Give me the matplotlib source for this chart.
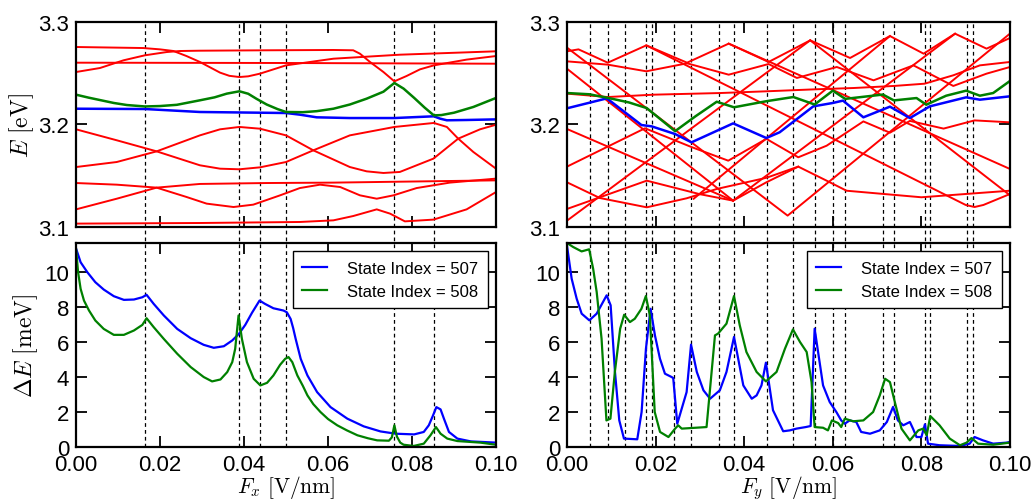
import matplotlib
matplotlib.use("Agg")
import matplotlib.pyplot as plt
from matplotlib.lines import Line2D
from matplotlib.transforms import blended_transform_factory
from matplotlib.ticker import FormatStrFormatter

plt.rcParams['font.family'] = ['Liberation Sans', 'DejaVu Sans']
plt.rcParams['mathtext.fontset'] = 'cm'

# ---------------- data: top-left, E [eV] vs F_x ----------------
tl_red_1 = [(0, 3.2756), (0.0160, 3.2746), (0.0200, 3.2733), (0.0232, 3.2717), (0.0263, 3.2668),
            (0.0295, 3.2610), (0.0343, 3.2506), (0.0365, 3.2475), (0.0389, 3.2463), (0.0410, 3.2470),
            (0.0438, 3.2496), (0.0500, 3.2577), (0.0613, 3.2642), (0.0771, 3.2681), (0.1000, 3.2714)]
tl_red_2 = [(0, 3.2512), (0.0057, 3.2551), (0.0113, 3.2626), (0.0164, 3.2675), (0.0216, 3.2707),
            (0.0248, 3.2717), (0.0295, 3.2720), (0.0454, 3.2724), (0.0613, 3.2727), (0.0660, 3.2724),
            (0.0676, 3.2691), (0.0700, 3.2610), (0.0732, 3.2512), (0.0758, 3.2421), (0.0787, 3.2473),
            (0.0819, 3.2538), (0.0852, 3.2577), (0.0930, 3.2633), (0.1000, 3.2668)]
tl_red_3 = [(0, 3.2603), (0.05, 3.2600), (0.1, 3.2593)]
tl_red_4 = [(0, 3.1953), (0.0097, 3.1846), (0.0192, 3.1738), (0.0295, 3.1602), (0.0343, 3.1569),
            (0.0389, 3.1563), (0.0438, 3.1582), (0.0500, 3.1634), (0.0565, 3.1748), (0.0652, 3.1894),
            (0.0758, 3.1976), (0.0852, 3.2015), (0.0883, 3.1976), (0.0910, 3.1862), (0.0946, 3.1732),
            (0.1000, 3.1569)]
tl_red_5 = [(0, 3.1585), (0.0097, 3.1634), (0.0192, 3.1738), (0.0295, 3.1894), (0.0343, 3.1953),
            (0.0389, 3.1976), (0.0438, 3.1959), (0.0500, 3.1894), (0.0565, 3.1748), (0.0652, 3.1585),
            (0.0692, 3.1543), (0.0732, 3.1527), (0.0771, 3.1537), (0.0851, 3.1667), (0.0910, 3.1862),
            (0.0962, 3.1953), (0.1000, 3.1998)]
tl_red_6 = [(0, 3.1429), (0.0097, 3.1413), (0.0192, 3.1384), (0.0295, 3.1420), (0.0454, 3.1429),
            (0.0613, 3.1433), (0.0771, 3.1442), (0.1000, 3.1455)]
tl_red_7 = [(0, 3.1172), (0.0097, 3.1276), (0.0192, 3.1384), (0.0263, 3.1293), (0.0311, 3.1228),
            (0.0375, 3.1195), (0.0422, 3.1218), (0.0486, 3.1309), (0.0533, 3.1380), (0.0581, 3.1413),
            (0.0629, 3.1390), (0.0676, 3.1309), (0.0716, 3.1276), (0.0756, 3.1309), (0.0811, 3.1380),
            (0.0890, 3.1433), (0.1000, 3.1472)]
tl_red_8 = [(0, 3.1033), (0.0295, 3.1039), (0.0533, 3.1049), (0.0613, 3.1065), (0.0660, 3.1107),
            (0.0716, 3.1172), (0.0748, 3.1130), (0.0783, 3.1055), (0.0851, 3.1072), (0.0930, 3.1172),
            (0.1000, 3.1341)]
tl_green = [(0, 3.2291), (0.0030, 3.2262), (0.0060, 3.2236), (0.0090, 3.2210), (0.0121, 3.2190),
            (0.0164, 3.2176), (0.0200, 3.2180), (0.0240, 3.2192), (0.0295, 3.2236), (0.0330, 3.2265),
            (0.0359, 3.2301), (0.0389, 3.2324), (0.0410, 3.2300), (0.0430, 3.2250), (0.0454, 3.2195),
            (0.0480, 3.2150), (0.0500, 3.2122), (0.0540, 3.2120), (0.0573, 3.2130), (0.0613, 3.2154),
            (0.0652, 3.2195), (0.0692, 3.2252), (0.0732, 3.2320), (0.0758, 3.2405), (0.0780, 3.2350),
            (0.0805, 3.2260), (0.0830, 3.2165), (0.0852, 3.2089), (0.0870, 3.2092), (0.0900, 3.2115),
            (0.0946, 3.2171), (0.1000, 3.2259)]
tl_blue = [(0, 3.2154), (0.0164, 3.2151), (0.0295, 3.2122), (0.0500, 3.2112), (0.0533, 3.2096),
           (0.0573, 3.2070), (0.0652, 3.2063), (0.0758, 3.2063), (0.0852, 3.2080), (0.0867, 3.2057),
           (0.0883, 3.2041), (0.0930, 3.2044), (0.1000, 3.2050)]

# ---------------- data: top-right, E [eV] vs F_y ----------------
tr_red_1 = [(0, 3.2714), (0.0026, 3.2733), (0.0092, 3.2603), (0.0179, 3.2772), (0.0271, 3.2603),
            (0.0365, 3.2789), (0.0455, 3.2610), (0.0549, 3.2821), (0.0639, 3.2649), (0.0729, 3.2863),
            (0.0805, 3.2691), (0.0876, 3.2886), (0.0947, 3.2740), (0.1, 3.2844)]
tr_red_2 = [(0, 3.2616), (0.0092, 3.2584), (0.0179, 3.2519), (0.0271, 3.2597), (0.0365, 3.2486),
            (0.0455, 3.2590), (0.0519, 3.2454), (0.0609, 3.2561), (0.0692, 3.2431), (0.0782, 3.2577),
            (0.0872, 3.2376), (0.0947, 3.2496), (0.1, 3.2561)]
tr_red_3 = [(0, 3.2301), (0.0092, 3.2268), (0.0196, 3.2291), (0.0346, 3.2307), (0.0451, 3.2324),
            (0.0559, 3.2343), (0.0647, 3.2356), (0.0738, 3.2376), (0.0807, 3.2398), (0.0872, 3.2480),
            (0.0932, 3.2577), (0.1, 3.2610)]
tr_red_4 = [(0, 3.2750), (0.0498, 3.1111), (0.1, 3.2887)]
tr_red_5 = [(0, 3.2544), (0.0375, 3.1257), (0.0450, 3.1436), (0.0522, 3.1589), (0.0586, 3.1452),
            (0.0631, 3.1354), (0.0800, 3.1290), (0.1, 3.1354)]
tr_red_6 = [(0.0549, 3.2821), (0.1, 3.1309)]
tr_red_7 = [(0, 3.1956), (0.0375, 3.1257)]
tr_red_8 = [(0, 3.1436), (0.0074, 3.1283), (0.0180, 3.1192), (0.0270, 3.1280), (0.0338, 3.1371),
            (0.0450, 3.1480), (0.0522, 3.1589)]
tr_red_9 = [(0.0375, 3.1257), (0.0876, 3.2886)]
tr_red_10 = [(0, 3.1062), (0.0549, 3.2821)]
tr_red_11 = [(0, 3.1589), (0.0176, 3.1963), (0.0281, 3.1780), (0.0364, 3.1647), (0.0450, 3.1860),
             (0.0522, 3.1680), (0.0586, 3.1793), (0.0669, 3.2030), (0.0729, 3.1920), (0.0774, 3.2035),
             (0.0850, 3.1960), (0.0920, 3.2040), (0.1, 3.2021)]
tr_red_12 = [(0, 3.1176), (0.0180, 3.1452), (0.0300, 3.1320), (0.0375, 3.1257)]
tr_red_13 = [(0.0365, 3.2789), (0.1, 3.1566)]
tr_red_14 = [(0.0286, 3.1276), (0.0451, 3.1868), (0.0729, 3.2863)]
tr_red_15 = [(0.0179, 3.2772), (0.0900, 3.1215), (0.0920, 3.1195), (0.0940, 3.1215), (0.1, 3.1322)]
tr_green = [(0, 3.2307), (0.0050, 3.2295), (0.0090, 3.2262), (0.0140, 3.2215), (0.0180, 3.2160),
            (0.0244, 3.1935), (0.0290, 3.2080), (0.0338, 3.2222), (0.0377, 3.2168), (0.0451, 3.2228),
            (0.0511, 3.2268), (0.0559, 3.2195), (0.0600, 3.2330), (0.0628, 3.2250), (0.0713, 3.2292),
            (0.0738, 3.2235), (0.0789, 3.2258), (0.0811, 3.2193), (0.0856, 3.2281), (0.0901, 3.2330),
            (0.0932, 3.2281), (0.0962, 3.2307), (0.1000, 3.2425)]
tr_blue = [(0, 3.2158), (0.0090, 3.2255), (0.0168, 3.1995), (0.0191, 3.1982), (0.0244, 3.1907),
           (0.0281, 3.1826), (0.0375, 3.2011), (0.0450, 3.1868), (0.0480, 3.1924), (0.0556, 3.2177),
           (0.0600, 3.2210), (0.0623, 3.2233), (0.0669, 3.2070), (0.0729, 3.2174), (0.0774, 3.2063),
           (0.0819, 3.2177), (0.0901, 3.2265), (0.0932, 3.2242), (0.1000, 3.2275)]

# ---------------- data: bottom-left, dE [meV] vs F_x ----------------
bl_507 = [(0, 11.35), (0.0011, 10.56), (0.0027, 9.99), (0.0046, 9.42), (0.0066, 9.0), (0.0090, 8.62),
          (0.0114, 8.41), (0.0138, 8.43), (0.0158, 8.56), (0.0168, 8.70), (0.0185, 8.18), (0.0209, 7.52),
          (0.0241, 6.75), (0.0273, 6.22), (0.0304, 5.84), (0.0328, 5.67), (0.0352, 5.76), (0.0372, 6.09),
          (0.0388, 6.47), (0.0403, 6.98), (0.0419, 7.67), (0.0437, 8.37), (0.0450, 8.18), (0.0470, 7.93),
          (0.0494, 7.80), (0.0502, 7.70), (0.0511, 7.32), (0.0517, 6.8), (0.0523, 6.18), (0.0535, 5.04),
          (0.0551, 4.09), (0.0574, 3.14), (0.0606, 2.28), (0.0646, 1.62), (0.0685, 1.18), (0.0725, 0.89),
          (0.0761, 0.76), (0.0805, 0.72), (0.0828, 0.86), (0.0840, 1.24), (0.0850, 1.8), (0.0858, 2.28),
          (0.0868, 2.15), (0.0876, 1.62), (0.0888, 0.86), (0.0908, 0.48), (0.0940, 0.32), (0.1000, 0.25)]
bl_508 = [(0, 11.35), (0.0005, 9.99), (0.0011, 9.04), (0.0019, 8.37), (0.0031, 7.8), (0.0046, 7.23),
          (0.0066, 6.75), (0.0090, 6.41), (0.0114, 6.41), (0.0138, 6.66), (0.0158, 6.98), (0.0168, 7.36),
          (0.0185, 6.85), (0.0209, 6.18), (0.0241, 5.33), (0.0273, 4.57), (0.0304, 4.0), (0.0324, 3.75),
          (0.0344, 3.86), (0.0360, 4.28), (0.0372, 4.85), (0.0379, 5.61), (0.0387, 7.52), (0.0395, 6.18),
          (0.0407, 4.85), (0.0423, 3.9), (0.0439, 3.52), (0.0455, 3.67), (0.0470, 4.09), (0.0486, 4.7),
          (0.0498, 5.04), (0.0506, 5.14), (0.0515, 4.85), (0.0527, 4.09), (0.0540, 3.5), (0.0551, 2.95),
          (0.0565, 2.45), (0.0582, 2.0), (0.0600, 1.6), (0.0622, 1.24), (0.0645, 0.95), (0.0670, 0.67),
          (0.0695, 0.5), (0.0717, 0.38), (0.0745, 0.36), (0.0752, 0.55), (0.0758, 1.24), (0.0764, 0.6),
          (0.0772, 0.25), (0.0780, 0.13), (0.0804, 0.06), (0.0828, 0.19), (0.0844, 0.67), (0.0857, 1.14),
          (0.0868, 0.76), (0.0884, 0.48), (0.0908, 0.34), (0.0963, 0.25), (0.1000, 0.13)]

# ---------------- data: bottom-right, dE [meV] vs F_y ----------------
br_507 = [(0.0, 11.5), (0.00105, 9.62), (0.00218, 8.48), (0.00331, 7.62), (0.00504, 7.24), (0.00669, 7.62),
          (0.00895, 8.67), (0.00985, 8.1), (0.01083, 4.29), (0.0118, 1.52), (0.01286, 0.48), (0.01586, 0.44),
          (0.01684, 2.0), (0.01782, 5.62), (0.01887, 7.9), (0.01985, 6.38), (0.02098, 5.05), (0.02211, 4.19),
          (0.02361, 4.0), (0.02398, 3.94), (0.02489, 1.33), (0.027, 3.14), (0.028, 5.85), (0.0293, 4.29),
          (0.0308, 3.24), (0.0323, 2.76), (0.0345, 3.24), (0.036, 4.29), (0.0377, 6.29), (0.0398, 3.52),
          (0.0417, 2.76), (0.0428, 2.95), (0.0439, 3.52), (0.0449, 4.82), (0.0465, 2.1), (0.0488, 0.9),
          (0.0503, 0.95), (0.0518, 1.05), (0.0539, 1.14), (0.055, 1.2), (0.0559, 6.76), (0.0578, 3.52),
          (0.0593, 2.57), (0.0608, 2.0), (0.0619, 1.52), (0.0627, 1.33), (0.0638, 1.52), (0.0653, 1.43),
          (0.0664, 0.86), (0.0684, 0.76), (0.0706, 0.95), (0.0722, 1.43), (0.0736, 2.29), (0.0747, 1.52),
          (0.0759, 1.24), (0.0774, 1.43), (0.0781, 1.05), (0.0789, 0.57), (0.08, 0.57), (0.0808, 1.3),
          (0.0815, 0.19), (0.0841, 0.1), (0.0886, 0.06), (0.0909, 0.19), (0.092, 0.57), (0.0939, 0.38),
          (0.0962, 0.19), (0.0992, 0.25), (0.1, 0.29)]
br_508 = [(0, 11.66), (0.0014, 11.43), (0.0033, 11.18), (0.005, 11.3), (0.0059, 10.19), (0.0067, 8.86),
          (0.0078, 6.19), (0.0089, 1.52), (0.0098, 1.62), (0.0108, 4.29), (0.012, 6.76), (0.0129, 7.56),
          (0.0142, 7.14), (0.0153, 7.33), (0.0168, 7.9), (0.0178, 8.63), (0.0187, 7.52), (0.0198, 2.0),
          (0.021, 0.86), (0.0229, 0.57), (0.0244, 1.05), (0.0251, 1.24), (0.0259, 1.05), (0.0315, 1.14),
          (0.0334, 6.38), (0.0341, 6.48), (0.036, 7.05), (0.0377, 8.63), (0.039, 6.95), (0.0405, 5.43),
          (0.0428, 4.29), (0.0449, 3.75), (0.0473, 4.29), (0.0492, 5.62), (0.051, 6.72), (0.0526, 6.0),
          (0.0541, 5.43), (0.0552, 3.71), (0.0559, 1.14), (0.0578, 1.1), (0.0589, 0.95), (0.0598, 1.52),
          (0.0612, 1.37), (0.0619, 1.14), (0.0627, 1.62), (0.0646, 1.47), (0.0669, 1.52), (0.0691, 2.0),
          (0.0706, 2.95), (0.0718, 3.9), (0.0729, 3.71), (0.074, 2.57), (0.0755, 1.05), (0.0774, 0.38),
          (0.0793, 0.95), (0.0804, 1.05), (0.0812, 0.67), (0.082, 1.77), (0.0841, 1.24), (0.0864, 0.48),
          (0.0887, 0.1), (0.0902, 0.25), (0.0913, 0.51), (0.0928, 0.19), (0.0962, 0.13), (0.1, 0.25)]

# anticrossing markers (dashed verticals)
left_marks = [0.0164, 0.0389, 0.0437, 0.0500, 0.0758, 0.0852]
right_marks = [0.0051, 0.0092, 0.0132, 0.0179, 0.0192, 0.0241, 0.0281, 0.0343, 0.0377, 0.0451,
               0.0511, 0.0559, 0.0600, 0.0628, 0.0713, 0.0738, 0.0807, 0.0820, 0.0902, 0.0917]

xticks = [0.0, 0.02, 0.04, 0.06, 0.08, 0.10]
e_ticks = [3.1, 3.2, 3.3]
de_ticks = [0, 2, 4, 6, 8, 10]
legend_labels = ['State Index = 507', 'State Index = 508']

RED, GREEN, BLUE = '#ff0000', '#008000', '#0000ff'

fig = plt.figure(figsize=(10.36, 5.02), dpi=100)
L, LW = 0.07336, 0.40541
R, RW = 0.54730, 0.42761
TB, TH = 0.54582, 0.40837
BB, BH = 0.10757, 0.40637

ax_tl = fig.add_axes([L, TB, LW, TH])
ax_bl = fig.add_axes([L, BB, LW, BH])
ax_tr = fig.add_axes([R, TB, RW, TH])
ax_br = fig.add_axes([R, BB, RW, BH])


def style(ax):
    ax.set_facecolor('none')
    for s in ax.spines.values():
        s.set_linewidth(1.6)
    ax.tick_params(direction='in', length=8, width=1.3, top=True, right=True,
                   labelsize=16, pad=5)
    ax.set_xlim(0, 0.1)
    ax.set_xticks(xticks)
    ax.xaxis.set_major_formatter(FormatStrFormatter('%.2f'))


def plot_pairs(ax, pts, **kw):
    xs, ys = zip(*pts)
    ax.plot(xs, ys, solid_joinstyle='round', **kw)


for ax in (ax_tl, ax_tr):
    style(ax)
    ax.set_ylim(3.1, 3.3)
    ax.set_yticks(e_ticks)
    ax.yaxis.set_major_formatter(FormatStrFormatter('%.1f'))
    ax.tick_params(labelbottom=False)
for ax in (ax_bl, ax_br):
    style(ax)
    ax.set_ylim(0, 11.66)
    ax.set_yticks(de_ticks)

for line in (tl_red_1, tl_red_2, tl_red_3, tl_red_4, tl_red_5, tl_red_6, tl_red_7, tl_red_8):
    plot_pairs(ax_tl, line, color=RED, lw=1.4)
plot_pairs(ax_tl, tl_blue, color=BLUE, lw=1.8)
plot_pairs(ax_tl, tl_green, color=GREEN, lw=1.8)

for line in (tr_red_1, tr_red_2, tr_red_3, tr_red_4, tr_red_5, tr_red_6, tr_red_7, tr_red_8,
             tr_red_9, tr_red_10, tr_red_11, tr_red_12, tr_red_13, tr_red_14, tr_red_15):
    plot_pairs(ax_tr, line, color=RED, lw=1.4)
plot_pairs(ax_tr, tr_blue, color=BLUE, lw=1.8)
plot_pairs(ax_tr, tr_green, color=GREEN, lw=1.8)

plot_pairs(ax_bl, bl_507, color=BLUE, lw=1.6, label=legend_labels[0])
plot_pairs(ax_bl, bl_508, color=GREEN, lw=1.6, label=legend_labels[1])
plot_pairs(ax_br, br_507, color=BLUE, lw=1.6, label=legend_labels[0])
plot_pairs(ax_br, br_508, color=GREEN, lw=1.6, label=legend_labels[1])

for ax in (ax_bl, ax_br):
    leg = ax.legend(loc='upper right', fontsize=12, frameon=True, fancybox=False,
                    edgecolor='k', framealpha=1, handlelength=1.5, handletextpad=1.2,
                    borderpad=0.55, labelspacing=0.5, borderaxespad=0.5)
    leg.get_frame().set_linewidth(1.0)

ax_tl.set_ylabel(r'$E\ [\mathrm{eV}]$', fontsize=17)
ax_bl.set_ylabel(r'$\Delta E\ [\mathrm{meV}]$', fontsize=17)
ax_tl.yaxis.set_label_coords(-0.095, 0.5)
ax_bl.yaxis.set_label_coords(-0.086, 0.5)
ax_bl.set_xlabel(r'$F_x\ [\mathrm{V/nm}]$', fontsize=15.5)
ax_br.set_xlabel(r'$F_y\ [\mathrm{V/nm}]$', fontsize=15.5)
ax_bl.xaxis.set_label_coords(0.5, -0.127)
ax_br.xaxis.set_label_coords(0.5, -0.127)

for ax_ref, marks in ((ax_bl, left_marks), (ax_br, right_marks)):
    trans = blended_transform_factory(ax_ref.transData, fig.transFigure)
    for xm in marks:
        fig.add_artist(Line2D([xm, xm], [BB, TB + TH], transform=trans, color='k',
                              lw=0.9, ls=(0, (3, 2.5)), zorder=-1))

fig.savefig('out.png', dpi=100, facecolor='white')
